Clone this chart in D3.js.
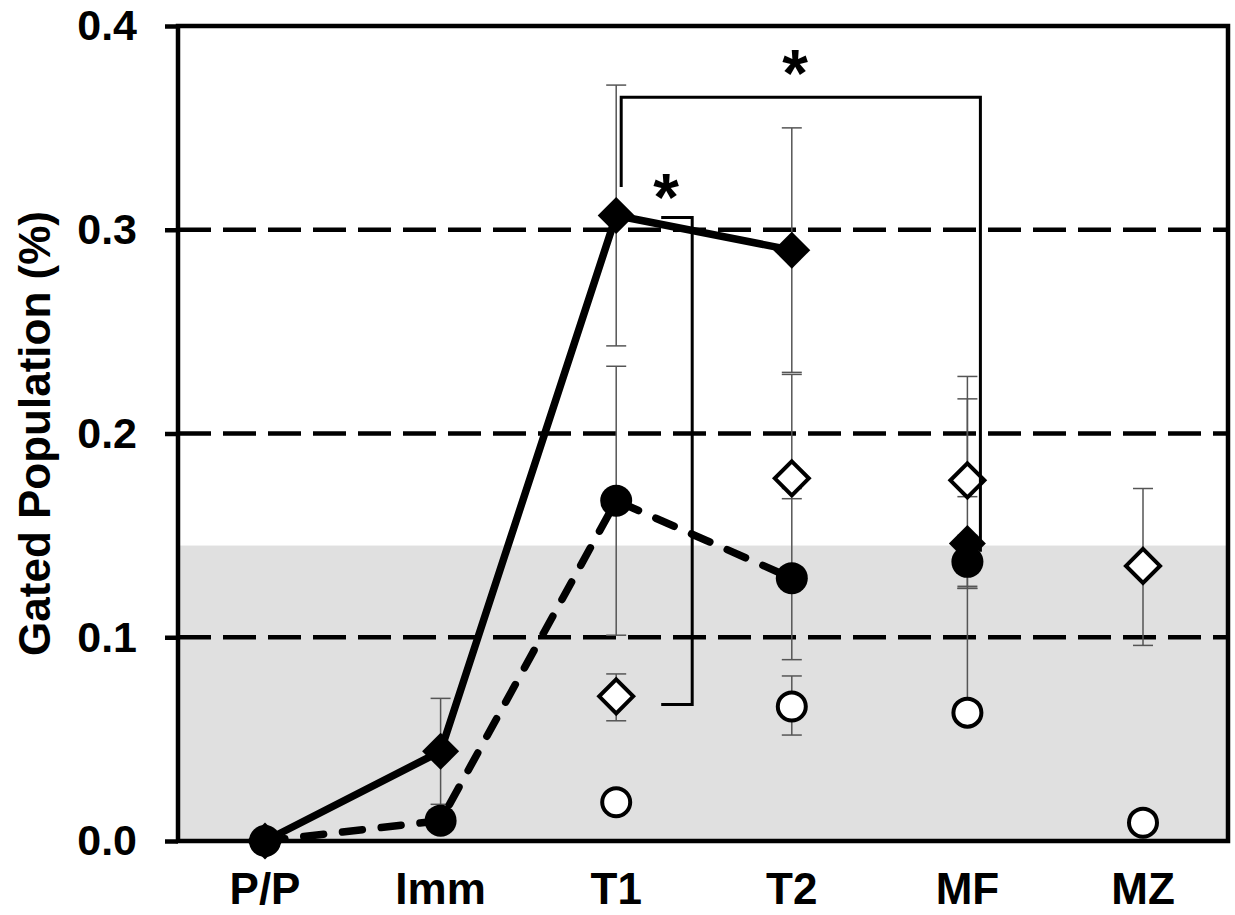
<!DOCTYPE html>
<html>
<head>
<meta charset="utf-8">
<script src="https://cdn.jsdelivr.net/npm/d3@7"></script>
<style>
  body { margin: 0; background: #fff; }
  text { font-family: "Liberation Sans", Arial, sans-serif; font-weight: bold; }
</style>
</head>
<body>
<div id="chart"></div>
<script>
// data
var categories = ["P/P", "Imm", "T1", "T2", "MF", "MZ"];
var yTicks = [0, 0.1, 0.2, 0.3, 0.4];
var gridValues = [0.1, 0.2, 0.3];
var shadeTop = 0.145;

var filledDiamond   = [0, 0.044, 0.307, 0.290, 0.146, null];
var filledDiamondLo = [null, 0.018, 0.243, 0.230, 0.125, null];
var filledDiamondHi = [null, 0.070, 0.371, 0.350, 0.217, null];

var filledCircle   = [0, 0.010, 0.167, 0.129, 0.137, null];
var filledCircleLo = [null, null, 0.101, 0.089, 0.124, null];
var filledCircleHi = [null, null, 0.233, 0.168, 0.150, null];

var openDiamond   = [null, null, 0.071, 0.178, 0.177, 0.135];
var openDiamondLo = [null, null, 0.059, 0.173, 0.169, 0.096];
var openDiamondHi = [null, null, 0.082, 0.229, 0.228, 0.173];

var openCircle   = [null, null, 0.019, 0.066, 0.063, 0.009];
var openCircleLo = [null, null, null, 0.052, null, null];
var openCircleHi = [null, null, null, 0.081, 0.124, null];

// categories joined by the lines
var lineCats = ["P/P", "Imm", "T1", "T2"];

var svgWidth = 1235;
var svgHeight = 915;
var plot = { left: 178, right: 1228, top: 26, bottom: 841 };

var svg = d3.select("#chart")
  .append("svg")
  .attr("width", svgWidth)
  .attr("height", svgHeight);

var x = d3.scalePoint()
  .domain(categories)
  .range([265, 1143]);

var y = d3.scaleLinear()
  .domain([0, 0.4])
  .range([plot.bottom, plot.top]);

// grey shaded band
svg.append("rect")
  .attr("x", plot.left)
  .attr("y", y(shadeTop))
  .attr("width", plot.right - plot.left)
  .attr("height", y(0) - y(shadeTop))
  .attr("fill", "#e0e0e0");

// dashed grid lines
svg.append("g")
  .selectAll("line")
  .data(gridValues)
  .enter()
  .append("line")
  .attr("x1", plot.left)
  .attr("x2", plot.right)
  .attr("y1", d => y(d))
  .attr("y2", d => y(d))
  .attr("stroke", "#000")
  .attr("stroke-width", 4.5)
  .attr("stroke-dasharray", "33,12");

function toPoints(vals, lo, hi) {
  return categories.map(function(c, i) {
    return { cat: c, v: vals[i], lo: lo ? lo[i] : null, hi: hi ? hi[i] : null };
  }).filter(d => d.v !== null);
}

var sDiamond = toPoints(filledDiamond, filledDiamondLo, filledDiamondHi);
var sCircle = toPoints(filledCircle, filledCircleLo, filledCircleHi);
var oDiamond = toPoints(openDiamond, openDiamondLo, openDiamondHi);
var oCircle = toPoints(openCircle, openCircleLo, openCircleHi);

// error bars
var errGroup = svg.append("g")
  .attr("stroke", "#555")
  .attr("stroke-width", 1.5);

[sDiamond, sCircle, oDiamond, oCircle].forEach(function(series) {
  series.forEach(function(d) {
    var cx = x(d.cat);
    if (d.hi !== null) {
      errGroup.append("line").attr("x1", cx).attr("x2", cx).attr("y1", y(d.v)).attr("y2", y(d.hi));
      errGroup.append("line").attr("x1", cx - 10).attr("x2", cx + 10).attr("y1", y(d.hi)).attr("y2", y(d.hi));
    }
    if (d.lo !== null) {
      errGroup.append("line").attr("x1", cx).attr("x2", cx).attr("y1", y(d.v)).attr("y2", y(d.lo));
      errGroup.append("line").attr("x1", cx - 10).attr("x2", cx + 10).attr("y1", y(d.lo)).attr("y2", y(d.lo));
    }
  });
});

// connecting lines
var line = d3.line()
  .x(d => x(d.cat))
  .y(d => y(d.v));

svg.append("path")
  .datum(sCircle.filter(d => lineCats.includes(d.cat)))
  .attr("d", line)
  .attr("fill", "none")
  .attr("stroke", "#000")
  .attr("stroke-width", 7.5)
  .attr("stroke-linecap", "round")
  .attr("stroke-dasharray", "20,19");

svg.append("path")
  .datum(sDiamond.filter(d => lineCats.includes(d.cat)))
  .attr("d", line)
  .attr("fill", "none")
  .attr("stroke", "#000")
  .attr("stroke-width", 7.5)
  .attr("stroke-linejoin", "round");

function diamondPath(h) {
  return "M0," + (-h) + "L" + h + ",0L0," + h + "L" + (-h) + ",0Z";
}

// markers
svg.append("g").selectAll("circle")
  .data(oCircle).enter().append("circle")
  .attr("cx", d => x(d.cat)).attr("cy", d => y(d.v))
  .attr("r", 14)
  .attr("fill", "#fff").attr("stroke", "#000").attr("stroke-width", 4);

svg.append("g").selectAll("path")
  .data(oDiamond).enter().append("path")
  .attr("transform", d => `translate(${x(d.cat)},${y(d.v)})`)
  .attr("d", diamondPath(17))
  .attr("fill", "#fff").attr("stroke", "#000").attr("stroke-width", 4);

svg.append("g").selectAll("circle")
  .data(sCircle).enter().append("circle")
  .attr("cx", d => x(d.cat)).attr("cy", d => y(d.v))
  .attr("r", 16)
  .attr("fill", "#000");

svg.append("g").selectAll("path")
  .data(sDiamond).enter().append("path")
  .attr("transform", d => `translate(${x(d.cat)},${y(d.v)})`)
  .attr("d", diamondPath(18.5))
  .attr("fill", "#000");

// frame
svg.append("rect")
  .attr("x", plot.left)
  .attr("y", plot.top)
  .attr("width", plot.right - plot.left)
  .attr("height", plot.bottom - plot.top)
  .attr("fill", "none")
  .attr("stroke", "#000")
  .attr("stroke-width", 4.5);

// y axis
var leftAxis = d3.axisLeft(y)
  .tickValues(yTicks)
  .tickFormat(d3.format(".1f"))
  .tickSize(13)
  .tickPadding(28);

var yAxis = svg.append("g")
  .attr("transform", `translate(${plot.left},0)`)
  .call(leftAxis);
yAxis.select(".domain").remove();
yAxis.selectAll("line").attr("stroke", "#000").attr("stroke-width", 4.5);
yAxis.selectAll("text")
  .attr("fill", "#000")
  .style("font-size", "43px")
  .style("font-family", "'Liberation Sans', Arial, sans-serif")
  .style("font-weight", "bold");

// x labels
svg.append("g")
  .selectAll("text")
  .data(categories)
  .enter()
  .append("text")
  .attr("x", d => x(d))
  .attr("y", 904)
  .attr("text-anchor", "middle")
  .style("font-size", "44px")
  .text(d => d);

// y title
svg.append("text")
  .attr("transform", `translate(50, ${(plot.top + plot.bottom) / 2}) rotate(-90)`)
  .attr("text-anchor", "middle")
  .style("font-size", "44px")
  .text("Gated Population (%)");

// significance brackets
var bracket = svg.append("g")
  .attr("fill", "none")
  .attr("stroke", "#000")
  .attr("stroke-width", 3);

var t1 = x("T1"), mf = x("MF");
bracket.append("path")
  .attr("d", `M${t1 + 5},${y(0.321)}V${y(0.365)}H${mf + 13}V${y(0.142)}`);
bracket.append("path")
  .attr("d", `M${t1 + 45},${y(0.306)}H${t1 + 76}V${y(0.067)}H${t1 + 45}`);

svg.append("text")
  .attr("x", 795)
  .attr("y", 96)
  .attr("text-anchor", "middle")
  .style("font-size", "66px")
  .text("*");

svg.append("text")
  .attr("x", t1 + 50)
  .attr("y", 220)
  .attr("text-anchor", "middle")
  .style("font-size", "66px")
  .text("*");
</script>
</body>
</html>
